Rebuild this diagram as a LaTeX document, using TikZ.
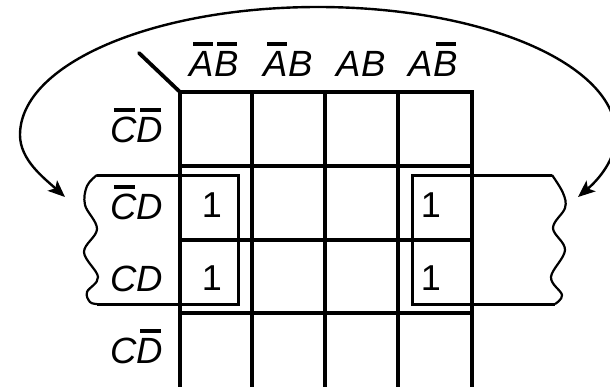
\documentclass[tikz,border=0pt]{standalone}
\usepackage{fontspec}
\setmainfont{Liberation Sans}
\usetikzlibrary{arrows.meta}
\newcommand\ovl[1]{\setbox0\hbox{#1}\rlap{\hspace{0.14\wd0}\rule[0.83em]{0.8\wd0}{0.1em}}\box0}
\tikzset{
  lab/.style={font=\fontsize{36.5}{36.5}\selectfont\itshape, inner sep=0pt},
  one/.style={font=\fontsize{36}{36}\selectfont, inner sep=0pt, anchor=base},
  gridline/.style={line width=3.8pt},
  groupline/.style={line width=3pt, line join=miter},
  waveline/.style={line width=2.2pt},
  wrap/.style={line width=2.4pt, -{Stealth[length=17pt,width=14pt,inset=4pt]}, shorten >=0pt},
}
\begin{document}
\begin{tikzpicture}[x=1pt,y=-1pt]
\useasboundingbox (0,0) rectangle (610,386);
\clip (0,0) rectangle (610,386);
% grid
\foreach \x in {180,252,325,398,472} \draw[gridline] (\x,90.1) -- (\x,388);
\draw[gridline] (178.1,92) -- (473.9,92);
\foreach \y in {166,240,313} \draw[gridline] (180,\y) -- (472,\y);
\draw[gridline, line cap=round] (139,53) -- (180,92);
% column labels
\node[lab, anchor=base] (c1) at (214,76) {\ovl{A}\ovl{B}};
\node[lab, anchor=base] (c2) at (288,76) {\ovl{A}B};
\node[lab, anchor=base] (c3) at (361,76) {AB};
\node[lab, anchor=base] (c4) at (433,76) {A\ovl{B}};
% row labels
\node[lab, anchor=base east] (r1) at (163,142) {\ovl{C}\ovl{D}};
\node[lab, anchor=base east] (r2) at (163,219) {\ovl{C}D};
\node[lab, anchor=base east] (r3) at (163,291) {CD};
\node[lab, anchor=base east] (r4) at (163,363) {C\ovl{D}};
% ones
\node[one] (o1) at (212,217) {1};
\node[one] (o2) at (212,290) {1};
\node[one] (o3) at (431,217) {1};
\node[one] (o4) at (431,290) {1};
% left group
\draw[groupline] (97,175) -- (238,175) -- (238,304) -- (97,304);
\draw[waveline] plot[smooth, tension=0.6] coordinates {(97,175) (87,186) (85,205) (97,229) (84,252) (98,277) (87,292) (90,302) (97,304)};
% right group
\draw[groupline] (552,175) -- (412,175) -- (412,304) -- (555,304);
\draw[waveline] plot[smooth, tension=0.6] coordinates {(552,175) (563,193) (565,208) (553,228) (565,250) (551,277) (562,295) (555,304)};
% wrap-around arc
\coordinate (lt) at (65,197);
\coordinate (rt) at (578,197);
\draw[wrap] (318,7) .. controls (153,7) and (20,64) .. (20,135) .. controls (20,160) and (44,178) .. (lt);
\draw[wrap] (318,7) .. controls (483,7) and (616,64) .. (616,135) .. controls (616,160) and (598,180) .. (rt);
\end{tikzpicture}
\end{document}
